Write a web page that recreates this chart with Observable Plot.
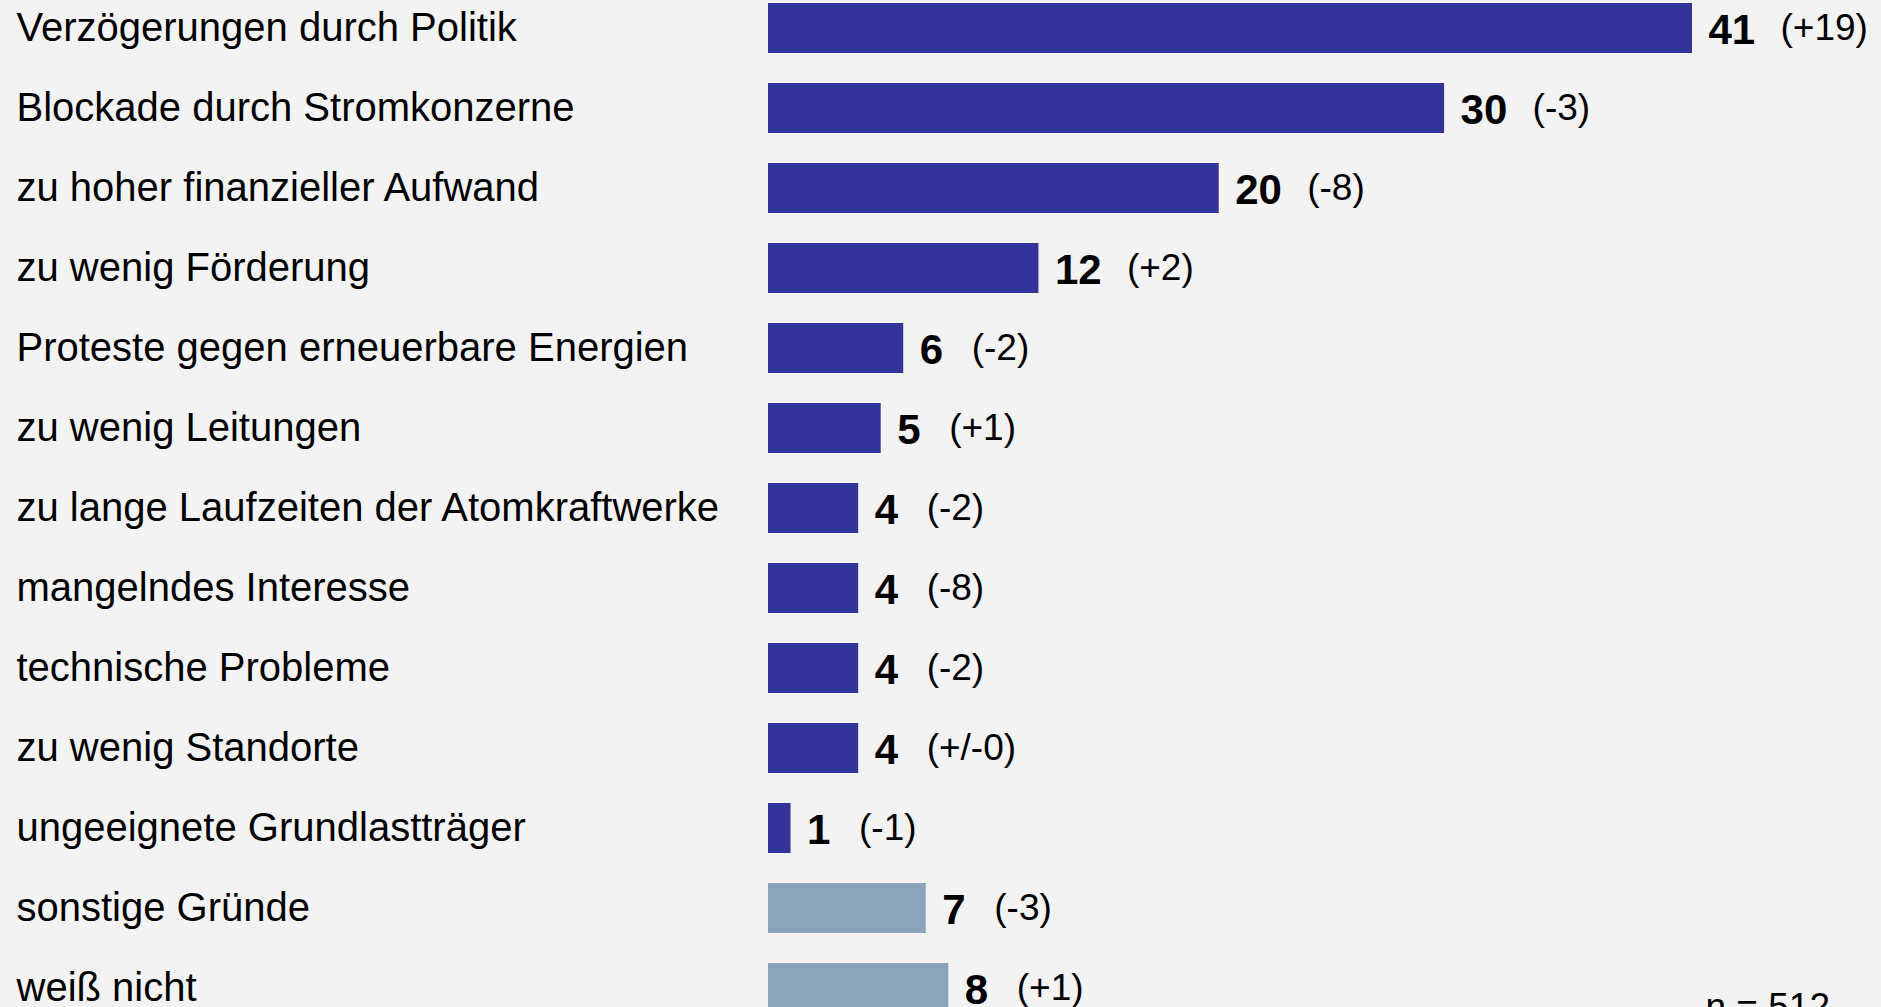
<!DOCTYPE html>
<html>
<head>
<meta charset="utf-8">
<script src="https://cdn.jsdelivr.net/npm/d3@7"></script>
<script src="https://cdn.jsdelivr.net/npm/@observablehq/plot@0.6"></script>
<style>
  html, body { margin: 0; padding: 0; background: #f3f3f3; overflow: hidden; }
  #chart svg { display: block; }
</style>
</head>
<body>
<div id="chart"></div>
<script>
const labels = [
  "Verzögerungen durch Politik",
  "Blockade durch Stromkonzerne",
  "zu hoher finanzieller Aufwand",
  "zu wenig Förderung",
  "Proteste gegen erneuerbare Energien",
  "zu wenig Leitungen",
  "zu lange Laufzeiten der Atomkraftwerke",
  "mangelndes Interesse",
  "technische Probleme",
  "zu wenig Standorte",
  "ungeeignete Grundlastträger",
  "sonstige Gründe",
  "weiß nicht"
];
const values = [41, 30, 20, 12, 6, 5, 4, 4, 4, 4, 1, 7, 8];
const changes = ["(+19)", "(-3)", "(-8)", "(+2)", "(-2)", "(+1)", "(-2)", "(-8)", "(-2)", "(+/-0)", "(-1)", "(-3)", "(+1)"];
const kinds = ["Grund","Grund","Grund","Grund","Grund","Grund","Grund","Grund","Grund","Grund","Grund","Sonstiges","Sonstiges"];
const caption = "n = 512";

const data = labels.map((label, i) => ({label, value: values[i], change: changes[i], kind: kinds[i]}));

const font = "'Liberation Sans', Arial, Helvetica, sans-serif";

const chart = Plot.plot({
  width: 1881,
  height: 1030,
  marginLeft: 768,
  marginRight: 189,
  marginTop: 3,
  marginBottom: 17,
  style: {background: "#f3f3f3", fontFamily: font, color: "#000"},
  x: {domain: [0, 41], axis: null},
  y: {domain: labels, axis: null, paddingInner: 0.375, paddingOuter: 0},
  color: {domain: ["Grund", "Sonstiges"], range: ["#333399", "#8ca3bc"]},
  marks: [
    Plot.barX(data, {x: "value", y: "label", fill: "kind"}),
    Plot.text(data, {y: "label", text: "label", frameAnchor: "left", textAnchor: "start", dx: -752, fontSize: 40, fill: "#000"}),
    Plot.text(data, {x: "value", y: "label", text: d => String(d.value), textAnchor: "start", dx: 16, dy: 2, fontSize: 42, fontWeight: "bold", fill: "#000"}),
    Plot.text(data.filter(d => d.value >= 10), {x: "value", y: "label", text: "change", textAnchor: "start", dx: 88, fontSize: 37, fill: "#000"}),
    Plot.text(data.filter(d => d.value < 10), {x: "value", y: "label", text: "change", textAnchor: "start", dx: 68, fontSize: 37, fill: "#000"}),
    Plot.text([caption], {frameAnchor: "bottom-right", textAnchor: "start", lineAnchor: "middle", dx: 13, dy: -6, fontSize: 37, fill: "#000"})
  ]
});
document.getElementById("chart").appendChild(chart);
</script>
</body>
</html>
